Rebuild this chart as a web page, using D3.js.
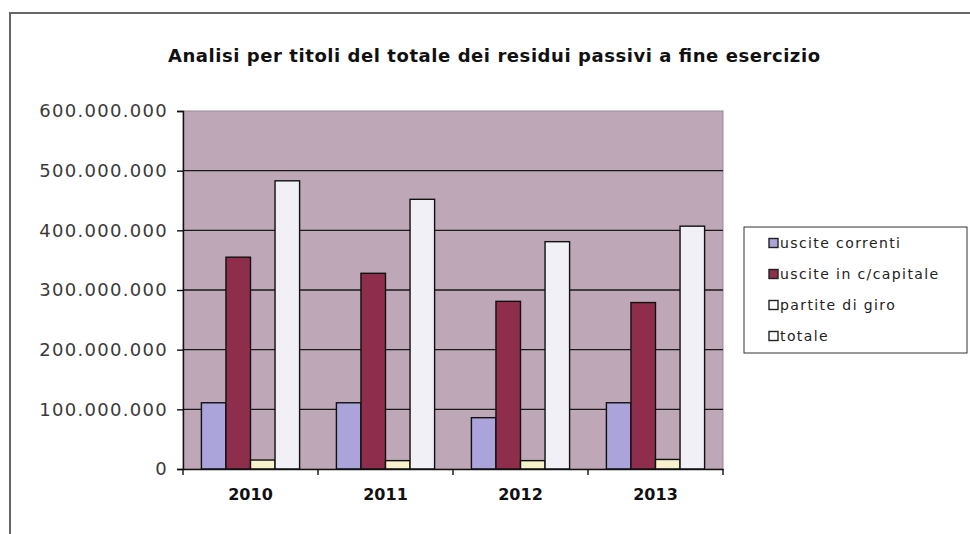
<!DOCTYPE html>
<html>
<head>
<meta charset="utf-8">
<script src="https://cdn.jsdelivr.net/npm/d3@7"></script>
<style>
  body { margin: 0; background: #fff; }
  text { font-family: "DejaVu Sans", Verdana, sans-serif; }
</style>
</head>
<body>
<div id="canvas"></div>
<script>
const years = ["2010", "2011", "2012", "2013"];
const seriesNames = ["uscite correnti", "uscite in c/capitale", "partite di giro", "totale"];
const usciteCorrenti = [111000000, 111000000, 86000000, 111000000];
const usciteCapitale = [355000000, 328000000, 281000000, 279000000];
const partiteGiro = [15000000, 14000000, 14000000, 16000000];
const totale = [483000000, 452000000, 381000000, 407000000];
const yTicks = [0, 100000000, 200000000, 300000000, 400000000, 500000000, 600000000];

const colors = ["#aaa4da", "#8e2d4c", "#f7f1cc", "#f1f0f6"];
const allSeries = [usciteCorrenti, usciteCapitale, partiteGiro, totale];

let margin = { top: 111, left: 183 },
  width = 540,
  height = 358;

let svg = d3.select("#canvas")
  .append("svg")
  .attr("width", 970)
  .attr("height", 534);

// chart frame (right and bottom edges fall outside the picture)
svg.append("path")
  .attr("d", "M10,534 L10,13 L972,13")
  .attr("fill", "none")
  .attr("stroke", "#666")
  .attr("stroke-width", 2);

svg.append("text")
  .attr("x", 168)
  .attr("y", 62)
  .attr("textLength", 652)
  .attr("lengthAdjust", "spacing")
  .style("font-weight", "bold")
  .style("font-size", "18px")
  .style("fill", "#111")
  .text("Analisi per titoli del totale dei residui passivi a fine esercizio");

let g = svg.append("g")
  .attr("transform", "translate(" + margin.left + "," + margin.top + ")");

let x0 = d3.scaleBand().domain(years).range([0, width]).paddingInner(0).paddingOuter(0);
let x1 = d3.scaleBand().domain(d3.range(4)).range([0, x0.bandwidth()]).paddingOuter(0.75).paddingInner(0);
let y = d3.scaleLinear().domain([0, 600000000]).range([height, 0]);

// plot area
g.append("rect")
  .attr("width", width)
  .attr("height", height)
  .attr("fill", "#bea8b8")
  .attr("stroke", "#9a8a98");

// gridlines
g.selectAll(".grid")
  .data(yTicks.slice(1, -1))
  .enter()
  .append("line")
  .attr("x1", 0)
  .attr("x2", width)
  .attr("y1", d => y(d))
  .attr("y2", d => y(d))
  .attr("stroke", "#1a1a1a")
  .attr("stroke-width", 1.4);

// bars
years.forEach(function (yr, i) {
  allSeries.forEach(function (s, j) {
    g.append("rect")
      .attr("x", x0(yr) + x1(j))
      .attr("y", y(s[i]))
      .attr("width", x1.bandwidth())
      .attr("height", height - y(s[i]))
      .attr("fill", colors[j])
      .attr("stroke", "#111")
      .attr("stroke-width", 1.4);
  });
});

// y axis
let fmt = d => d3.format(",")(d).replace(/,/g, ".");
let yAxis = g.append("g")
  .call(d3.axisLeft(y).tickValues(yTicks).tickFormat(fmt).tickSize(6).tickPadding(9));
yAxis.select(".domain").attr("stroke", "#111").attr("stroke-width", 1.4);
yAxis.selectAll(".tick line").attr("stroke", "#111").attr("stroke-width", 1.4);
yAxis.selectAll("text")
  .style("font-size", "18px")
  .style("letter-spacing", "1.3px")
  .style("fill", "#3a3a3a");

// x axis
let xAxis = g.append("g")
  .attr("transform", "translate(0," + height + ")")
  .call(d3.axisBottom(x0).tickSize(0).tickPadding(20));
xAxis.select(".domain").attr("stroke", "#111").attr("stroke-width", 1.4);
xAxis.selectAll("text")
  .style("font-size", "16px")
  .style("font-weight", "bold")
  .style("fill", "#111");
g.selectAll(".xtick")
  .data(d3.range(5))
  .enter()
  .append("line")
  .attr("x1", d => d * x0.bandwidth())
  .attr("x2", d => d * x0.bandwidth())
  .attr("y1", height)
  .attr("y2", height + 6)
  .attr("stroke", "#111")
  .attr("stroke-width", 1.4);

// legend
let legend = svg.append("g").attr("transform", "translate(744,227)");
legend.append("rect")
  .attr("width", 223)
  .attr("height", 126)
  .attr("fill", "#fff")
  .attr("stroke", "#333");

let item = legend.selectAll(".legend")
  .data(seriesNames)
  .enter()
  .append("g")
  .attr("class", "legend")
  .attr("transform", (d, i) => "translate(25," + (16 + i * 31) + ")");

item.append("rect")
  .attr("x", 0)
  .attr("y", -4.5)
  .attr("width", 9)
  .attr("height", 9)
  .attr("fill", (d, i) => i >= 2 ? "#fff" : colors[i])
  .attr("stroke", "#222")
  .attr("stroke-width", 1.4);

item.append("text")
  .attr("x", 11)
  .attr("y", 0)
  .attr("dy", "0.35em")
  .style("font-size", "14px")
  .style("letter-spacing", "1.4px")
  .style("fill", "#222")
  .text(d => d);
</script>
</body>
</html>
